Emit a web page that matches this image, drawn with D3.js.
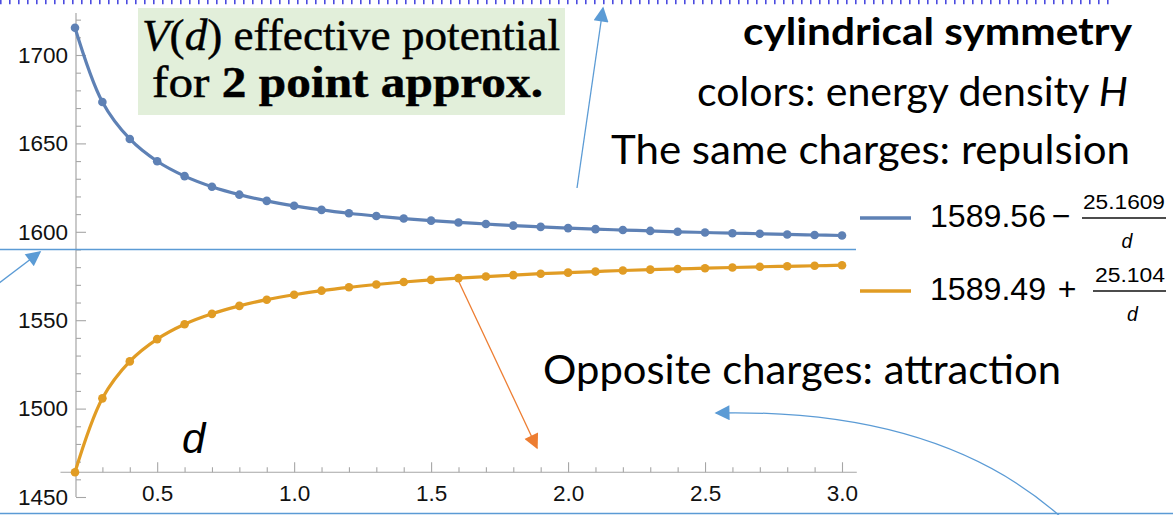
<!DOCTYPE html>
<html>
<head>
<meta charset="utf-8">
<script src="https://cdn.jsdelivr.net/npm/d3@7"></script>
<style>
  html, body { margin: 0; padding: 0; background: #ffffff; }
  svg { display: block; }
</style>
</head>
<body>
<svg id="chart" width="1173" height="515"></svg>
<script>
// Separation d between the two point charges
const separations = [0.2, 0.3, 0.4, 0.5, 0.6, 0.7, 0.8, 0.9, 1.0, 1.1, 1.2, 1.3, 1.4, 1.5,
  1.6, 1.7, 1.8, 1.9, 2.0, 2.1, 2.2, 2.3, 2.4, 2.5, 2.6, 2.7, 2.8, 2.9, 3.0];

// V(d) for like charges (repulsion, upper branch)
const sameCharges = [1715.4, 1673.4, 1652.5, 1639.9, 1631.5, 1625.5, 1621.0, 1617.5, 1614.7,
  1612.4, 1610.5, 1608.9, 1607.5, 1606.3, 1605.3, 1604.4, 1603.5, 1602.8, 1602.1, 1601.5,
  1601.0, 1600.5, 1600.0, 1599.6, 1599.2, 1598.9, 1598.5, 1598.2, 1597.9];

// V(d) for opposite charges (attraction, lower branch)
const oppositeCharges = [1464.0, 1505.8, 1526.7, 1539.3, 1547.7, 1553.6, 1558.1, 1561.6, 1564.4,
  1566.7, 1568.6, 1570.2, 1571.6, 1572.8, 1573.8, 1574.7, 1575.5, 1576.3, 1576.9, 1577.5,
  1578.1, 1578.6, 1579.0, 1579.4, 1579.8, 1580.2, 1580.5, 1580.8, 1581.1];

// Axis ticks
const xMajorTicks = [0.5, 1.0, 1.5, 2.0, 2.5, 3.0];
const xMinorTicks = [0.2, 0.3, 0.4, 0.6, 0.7, 0.8, 0.9, 1.1, 1.2, 1.3, 1.4, 1.6, 1.7, 1.8, 1.9,
  2.1, 2.2, 2.3, 2.4, 2.6, 2.7, 2.8, 2.9];
const yMajorTicks = [1450, 1500, 1550, 1600, 1650, 1700];
const yMinorTicks = [1460, 1470, 1480, 1490, 1510, 1520, 1530, 1540, 1560, 1570, 1580, 1590,
  1610, 1620, 1630, 1640, 1660, 1670, 1680, 1690, 1710, 1720];

// Legend entries: constant, sign, numerator of the 1/d term
const legendConstants = ["1589.56", "1589.49"];
const legendSigns = ["\u2212", "+"];
const legendNumerators = ["25.1609", "25.104"];

const blue = "#5e81b5";
const orange = "#e19c24";
const annotBlue = "#5b9bd5";
const annotOrange = "#ed7d31";

const svg = d3.select("#chart");

const x = d3.scaleLinear().domain([0.2, 3.0]).range([75, 842]);
const y = d3.scaleLinear().domain([1450, 1700]).range([497, 55]);

// Arrowhead markers
const defs = svg.append("defs");
function marker(id, color) {
  defs.append("marker")
    .attr("id", id)
    .attr("viewBox", "0 0 10 10")
    .attr("refX", 9).attr("refY", 5)
    .attr("markerUnits", "userSpaceOnUse")
    .attr("markerWidth", 18).attr("markerHeight", 15)
    .attr("orient", "auto")
    .append("path")
    .attr("d", "M0,0 L10,5 L0,10 Z")
    .attr("fill", color);
}
marker("headBlue", annotBlue);
marker("headOrange", annotOrange);

// Top dashed border
svg.append("line")
  .attr("x1", 0).attr("x2", 1110).attr("y1", 2).attr("y2", 2)
  .attr("stroke", "#4b4be0").attr("stroke-width", 4.5)
  .attr("stroke-dasharray", "1.6 7.4");

// Bottom rule
svg.append("line")
  .attr("x1", 0).attr("x2", 1173).attr("y1", 513.5).attr("y2", 513.5)
  .attr("stroke", annotBlue).attr("stroke-width", 1.5);

// Axes
const originY = y(oppositeCharges[0]);
const axisColor = "#a6a6a6";

const gy = svg.append("g").attr("transform", `translate(${x(0.2) + 1},0)`);
gy.append("g").call(d3.axisLeft(y).tickValues(yMinorTicks).tickSize(-5).tickFormat(""));
gy.append("g").call(d3.axisLeft(y).tickValues(yMajorTicks).tickSize(-10).tickPadding(8)
  .tickFormat(d3.format("d")));
gy.selectAll(".domain").remove();
gy.append("line").attr("x1", 0).attr("x2", 0).attr("y1", y(1723.8)).attr("y2", y(1450))
  .attr("stroke", axisColor).attr("stroke-width", 1.2);

const gx = svg.append("g").attr("transform", `translate(0,${originY})`);
gx.append("g").call(d3.axisBottom(x).tickValues(xMinorTicks).tickSize(-5).tickFormat(""));
gx.append("g").call(d3.axisBottom(x).tickValues(xMajorTicks).tickSize(-10).tickPadding(13)
  .tickFormat(d3.format(".1f")));
gx.selectAll(".domain").remove();
gx.append("line").attr("x1", x(0.147)).attr("x2", x(3.054)).attr("y1", 0).attr("y2", 0)
  .attr("stroke", axisColor).attr("stroke-width", 1.2);

svg.selectAll(".tick line").attr("stroke", axisColor).attr("stroke-width", 1.1);
svg.selectAll(".tick text")
  .attr("font-family", "'Liberation Sans', Arial, sans-serif")
  .attr("font-size", 22.5).attr("fill", "#111");

// Asymptote reference line
svg.append("line")
  .attr("x1", 0).attr("x2", 856).attr("y1", y(1590)).attr("y2", y(1590))
  .attr("stroke", annotBlue).attr("stroke-width", 1.4);

// Curves and sample points
const line = d3.line()
  .x((d, i) => x(separations[i]))
  .y(d => y(d))
  .curve(d3.curveCatmullRom.alpha(0.5));

[[sameCharges, blue], [oppositeCharges, orange]].forEach(([vals, color]) => {
  svg.append("path").datum(vals)
    .attr("d", line)
    .attr("fill", "none").attr("stroke", color).attr("stroke-width", 3.2);
  svg.append("g").selectAll("circle").data(vals).join("circle")
    .attr("cx", (d, i) => x(separations[i]))
    .attr("cy", d => y(d))
    .attr("r", 4.3)
    .attr("fill", color);
});

// Axis variable label
svg.append("text").attr("x", 182).attr("y", 453)
  .attr("font-family", "'Liberation Sans', Arial, sans-serif")
  .attr("font-style", "italic").attr("font-size", 42).text("d");

// Legend
const legendFont = "'Liberation Sans', Arial, sans-serif";
const legendRows = [
  { color: blue, yLine: 218, bar: [1082, 1166], numX: 1083, numW: 82 },
  { color: orange, yLine: 291, bar: [1093, 1166], numX: 1095, numW: 70 }
];
legendRows.forEach((r, i) => {
  const g = svg.append("g");
  g.append("line").attr("x1", 860).attr("x2", 911).attr("y1", r.yLine).attr("y2", r.yLine)
    .attr("stroke", r.color).attr("stroke-width", 3.6);
  g.append("text").attr("x", 930).attr("y", r.yLine + 9)
    .attr("font-family", legendFont).attr("font-size", 32)
    .attr("textLength", 116).attr("lengthAdjust", "spacingAndGlyphs")
    .text(legendConstants[i]);
  g.append("text").attr("x", i === 0 ? 1061 : 1067).attr("y", r.yLine + 9)
    .attr("text-anchor", "middle")
    .attr("font-family", legendFont).attr("font-size", 32)
    .text(legendSigns[i]);
  g.append("text").attr("x", r.numX).attr("y", r.yLine - 9)
    .attr("font-family", legendFont).attr("font-size", 19.5)
    .attr("textLength", r.numW).attr("lengthAdjust", "spacingAndGlyphs")
    .text(legendNumerators[i]);
  g.append("line").attr("x1", r.bar[0]).attr("x2", r.bar[1]).attr("y1", r.yLine).attr("y2", r.yLine)
    .attr("stroke", "#111").attr("stroke-width", 1.3);
  g.append("text").attr("x", (r.bar[0] + r.bar[1]) / 2 + 3).attr("y", r.yLine + 30)
    .attr("text-anchor", "middle")
    .attr("font-family", legendFont).attr("font-style", "italic").attr("font-size", 19.5)
    .text("d");
});

// Title box
svg.append("rect").attr("x", 138).attr("y", 8).attr("width", 427).attr("height", 107)
  .attr("fill", "#e2efda");
const serif = "'Liberation Serif', 'Times New Roman', serif";
const t1 = svg.append("text").attr("x", 142).attr("y", 50)
  .attr("font-family", serif).attr("font-size", 45)
  .attr("stroke", "#000").attr("stroke-width", 0.45)
  .attr("textLength", 418).attr("lengthAdjust", "spacingAndGlyphs");
t1.append("tspan").attr("font-style", "italic").text("V");
t1.append("tspan").text("(");
t1.append("tspan").attr("font-style", "italic").text("d");
t1.append("tspan").text(") effective potential");
const t2 = svg.append("text").attr("x", 152).attr("y", 97)
  .attr("font-family", serif).attr("font-size", 45)
  .attr("stroke", "#000").attr("stroke-width", 0.45)
  .attr("textLength", 391).attr("lengthAdjust", "spacingAndGlyphs");
t2.append("tspan").text("for ");
t2.append("tspan").attr("font-weight", "bold").text("2 point approx.");

// Annotation texts
const sans = "Lato, 'Open Sans', sans-serif";
svg.append("text").attr("x", 743).attr("y", 45)
  .attr("font-family", sans).attr("font-weight", "bold").attr("font-size", 38)
  .attr("textLength", 389).attr("lengthAdjust", "spacingAndGlyphs")
  .text("cylindrical symmetry");
const c1 = svg.append("text").attr("x", 697).attr("y", 106)
  .attr("font-family", sans).attr("font-size", 40)
  .attr("textLength", 431).attr("lengthAdjust", "spacingAndGlyphs");
c1.append("tspan").text("colors: energy density ");
c1.append("tspan").attr("font-style", "italic").text("H");
svg.append("text").attr("x", 611).attr("y", 164)
  .attr("font-family", sans).attr("font-size", 40)
  .attr("textLength", 519).attr("lengthAdjust", "spacingAndGlyphs")
  .text("The same charges: repulsion");
svg.append("text").attr("x", 543).attr("y", 384)
  .attr("font-family", sans).attr("font-size", 40)
  .attr("textLength", 518).attr("lengthAdjust", "spacingAndGlyphs")
  .text("Opposite charges: attraction");

// Arrows
svg.append("line").attr("x1", 577).attr("y1", 188).attr("x2", 603).attr("y2", 8)
  .attr("stroke", annotBlue).attr("stroke-width", 1.3).attr("marker-end", "url(#headBlue)");
svg.append("line").attr("x1", -6).attr("y1", 287).attr("x2", 40).attr("y2", 252)
  .attr("stroke", annotBlue).attr("stroke-width", 1.3).attr("marker-end", "url(#headBlue)");
svg.append("line").attr("x1", 459).attr("y1", 282).attr("x2", 537).attr("y2", 448)
  .attr("stroke", annotOrange).attr("stroke-width", 1.3).attr("marker-end", "url(#headOrange)");
svg.append("path").attr("d", "M1062,518 Q940,408 716,413")
  .attr("fill", "none")
  .attr("stroke", annotBlue).attr("stroke-width", 1.3).attr("marker-end", "url(#headBlue)");
</script>
</body>
</html>
